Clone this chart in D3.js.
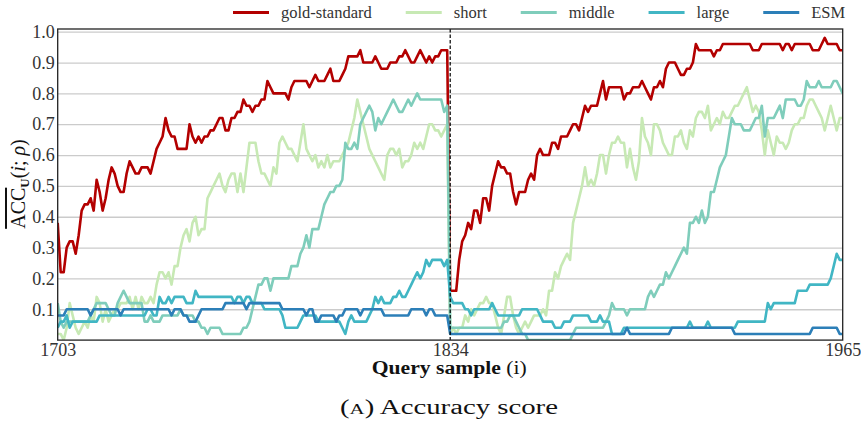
<!DOCTYPE html>
<html>
<head>
<meta charset="utf-8">
<script src="https://cdn.jsdelivr.net/npm/d3@7"></script>
<style>
  html, body { margin: 0; padding: 0; background: #fff; }
  svg { display: block; font-family: "Liberation Serif", "Times New Roman", serif; }
</style>
</head>
<body>
<div id="chart"></div>
<script>
// query samples 1703..1965, one value per sample, two runs split at 1834
const queryStart = 1703;
const querySplit = 1834;
const queryEnd = 1965;
const xTicks = [1703, 1834, 1965];
const yTicks = [0.1, 0.2, 0.3, 0.4, 0.5, 0.6, 0.7, 0.8, 0.9, 1.0];
const seriesNames = ['gold-standard', 'short', 'middle', 'large', 'ESM'];

const goldStandard = [
  0.38,0.22,0.22,0.30,0.32,0.32,0.28,0.34,0.42,0.44,
  0.44,0.46,0.42,0.52,0.48,0.42,0.46,0.52,0.56,0.54,
  0.50,0.48,0.48,0.54,0.58,0.56,0.54,0.54,0.56,0.56,
  0.56,0.54,0.58,0.62,0.64,0.66,0.72,0.68,0.66,0.66,
  0.62,0.62,0.62,0.62,0.70,0.66,0.64,0.66,0.64,0.66,
  0.66,0.68,0.68,0.70,0.72,0.72,0.68,0.68,0.72,0.72,
  0.74,0.74,0.78,0.76,0.76,0.74,0.76,0.76,0.78,0.78,
  0.84,0.82,0.80,0.80,0.80,0.80,0.80,0.78,0.82,0.84,
  0.84,0.84,0.84,0.84,0.82,0.84,0.86,0.84,0.84,0.84,
  0.86,0.88,0.84,0.84,0.84,0.86,0.88,0.92,0.92,0.92,
  0.92,0.94,0.90,0.90,0.90,0.90,0.92,0.90,0.88,0.88,
  0.88,0.90,0.90,0.90,0.92,0.92,0.94,0.92,0.90,0.90,
  0.92,0.94,0.92,0.90,0.92,0.90,0.92,0.92,0.94,0.94,
  0.94,0.16,0.16,0.16,0.26,0.32,0.34,0.38,0.36,0.42,
  0.42,0.38,0.46,0.46,0.42,0.50,0.54,0.58,0.56,0.56,
  0.54,0.54,0.48,0.44,0.48,0.48,0.48,0.52,0.54,0.52,
  0.60,0.62,0.60,0.60,0.60,0.64,0.64,0.62,0.66,0.66,
  0.66,0.68,0.70,0.70,0.68,0.72,0.76,0.74,0.76,0.76,
  0.76,0.80,0.84,0.78,0.82,0.82,0.82,0.82,0.82,0.78,
  0.80,0.80,0.82,0.82,0.82,0.84,0.82,0.80,0.78,0.82,
  0.82,0.84,0.82,0.88,0.90,0.90,0.90,0.88,0.86,0.86,
  0.88,0.88,0.90,0.96,0.94,0.94,0.94,0.94,0.94,0.92,
  0.94,0.94,0.96,0.96,0.96,0.96,0.96,0.96,0.96,0.96,
  0.96,0.96,0.94,0.94,0.94,0.96,0.96,0.96,0.96,0.96,
  0.96,0.96,0.94,0.96,0.96,0.94,0.96,0.96,0.96,0.96,
  0.96,0.96,0.94,0.94,0.94,0.96,0.98,0.96,0.96,0.96,
  0.96,0.94,0.94
];

const shortModel = [
  0.02,0.02,0.00,0.04,0.12,0.08,0.04,0.02,0.04,0.06,
  0.04,0.08,0.06,0.14,0.12,0.06,0.10,0.06,0.08,0.10,
  0.10,0.12,0.12,0.12,0.14,0.10,0.14,0.10,0.14,0.12,
  0.12,0.14,0.12,0.18,0.22,0.22,0.20,0.22,0.18,0.24,
  0.24,0.30,0.34,0.36,0.32,0.38,0.40,0.34,0.36,0.36,
  0.46,0.48,0.50,0.52,0.54,0.50,0.48,0.52,0.54,0.54,
  0.48,0.54,0.48,0.56,0.64,0.64,0.64,0.58,0.54,0.54,
  0.52,0.50,0.56,0.54,0.64,0.66,0.64,0.62,0.62,0.60,
  0.58,0.64,0.70,0.62,0.60,0.58,0.60,0.56,0.58,0.56,
  0.60,0.56,0.58,0.58,0.58,0.60,0.62,0.64,0.68,0.72,
  0.78,0.74,0.70,0.66,0.62,0.60,0.58,0.56,0.54,0.52,
  0.60,0.62,0.62,0.60,0.62,0.56,0.58,0.58,0.60,0.64,
  0.62,0.64,0.62,0.66,0.70,0.70,0.68,0.68,0.66,0.68,
  0.70,0.02,0.04,0.02,0.04,0.04,0.08,0.06,0.10,0.08,
  0.10,0.12,0.12,0.14,0.12,0.12,0.08,0.04,0.02,0.08,
  0.14,0.14,0.08,0.04,0.02,0.04,0.06,0.04,0.06,0.08,
  0.08,0.08,0.10,0.08,0.16,0.16,0.22,0.20,0.24,0.26,
  0.28,0.26,0.38,0.42,0.46,0.50,0.56,0.50,0.52,0.50,
  0.54,0.60,0.60,0.54,0.60,0.64,0.64,0.66,0.64,0.64,
  0.56,0.62,0.56,0.52,0.58,0.72,0.66,0.64,0.60,0.70,
  0.70,0.68,0.64,0.62,0.60,0.60,0.66,0.66,0.68,0.64,
  0.62,0.68,0.66,0.72,0.74,0.74,0.72,0.76,0.68,0.70,
  0.72,0.70,0.74,0.72,0.72,0.74,0.76,0.76,0.78,0.80,
  0.82,0.78,0.74,0.76,0.74,0.68,0.60,0.68,0.64,0.60,
  0.66,0.64,0.64,0.62,0.64,0.68,0.70,0.70,0.72,0.72,
  0.76,0.78,0.78,0.76,0.74,0.72,0.68,0.72,0.76,0.72,
  0.68,0.72,0.72
];

const middleModel = [
  0.12,0.06,0.04,0.06,0.06,0.06,0.06,0.06,0.06,0.06,
  0.06,0.08,0.10,0.12,0.12,0.12,0.12,0.10,0.08,0.08,
  0.12,0.14,0.16,0.14,0.12,0.12,0.12,0.12,0.12,0.06,
  0.06,0.08,0.06,0.06,0.06,0.08,0.08,0.08,0.08,0.08,
  0.08,0.10,0.08,0.08,0.08,0.08,0.06,0.06,0.04,0.04,
  0.02,0.04,0.04,0.04,0.04,0.02,0.02,0.02,0.02,0.02,
  0.02,0.02,0.04,0.04,0.06,0.10,0.14,0.18,0.18,0.20,
  0.20,0.16,0.20,0.20,0.20,0.20,0.20,0.20,0.24,0.24,
  0.24,0.28,0.30,0.34,0.30,0.36,0.36,0.36,0.40,0.44,
  0.46,0.48,0.48,0.50,0.50,0.52,0.64,0.62,0.62,0.64,
  0.62,0.70,0.72,0.74,0.76,0.74,0.68,0.72,0.70,0.72,
  0.74,0.76,0.78,0.76,0.74,0.74,0.76,0.78,0.76,0.78,
  0.80,0.78,0.78,0.78,0.78,0.78,0.78,0.78,0.78,0.74,
  0.76,0.04,0.04,0.04,0.04,0.04,0.04,0.04,0.04,0.04,
  0.04,0.04,0.04,0.04,0.04,0.04,0.04,0.04,0.04,0.06,
  0.06,0.08,0.08,0.06,0.04,0.02,0.02,0.00,0.00,0.00,
  0.00,0.00,0.00,0.00,0.00,0.00,0.00,0.00,0.00,0.00,
  0.00,0.00,0.02,0.04,0.04,0.04,0.04,0.04,0.04,0.04,
  0.04,0.04,0.04,0.06,0.08,0.12,0.10,0.10,0.10,0.10,
  0.08,0.10,0.10,0.10,0.10,0.10,0.10,0.14,0.16,0.14,
  0.16,0.18,0.18,0.22,0.20,0.22,0.24,0.26,0.28,0.30,
  0.28,0.38,0.38,0.40,0.38,0.42,0.38,0.40,0.48,0.48,
  0.52,0.56,0.58,0.60,0.66,0.72,0.70,0.70,0.70,0.68,
  0.68,0.68,0.70,0.72,0.72,0.76,0.66,0.72,0.72,0.72,
  0.74,0.76,0.72,0.78,0.78,0.78,0.78,0.76,0.76,0.78,
  0.84,0.82,0.82,0.82,0.84,0.82,0.82,0.82,0.82,0.84,
  0.84,0.82,0.80
];

const largeModel = [
  0.04,0.06,0.06,0.08,0.04,0.06,0.06,0.06,0.06,0.06,
  0.06,0.06,0.06,0.06,0.08,0.08,0.08,0.08,0.08,0.08,
  0.08,0.08,0.08,0.08,0.08,0.08,0.08,0.08,0.08,0.08,
  0.10,0.10,0.08,0.08,0.14,0.12,0.12,0.14,0.12,0.14,
  0.14,0.14,0.14,0.12,0.12,0.12,0.16,0.14,0.14,0.14,
  0.14,0.14,0.14,0.14,0.14,0.14,0.14,0.14,0.14,0.12,
  0.14,0.14,0.12,0.14,0.14,0.12,0.12,0.12,0.12,0.10,
  0.10,0.10,0.10,0.10,0.10,0.08,0.04,0.04,0.04,0.04,
  0.04,0.06,0.08,0.08,0.08,0.08,0.08,0.06,0.06,0.06,
  0.06,0.06,0.06,0.06,0.06,0.04,0.02,0.06,0.08,0.06,
  0.06,0.06,0.06,0.06,0.08,0.10,0.14,0.12,0.14,0.12,
  0.12,0.12,0.14,0.14,0.16,0.14,0.14,0.16,0.18,0.20,
  0.22,0.20,0.22,0.26,0.24,0.26,0.26,0.26,0.26,0.24,
  0.26,0.14,0.12,0.12,0.12,0.12,0.10,0.10,0.08,0.10,
  0.10,0.10,0.10,0.10,0.10,0.12,0.10,0.08,0.08,0.08,
  0.08,0.08,0.08,0.08,0.08,0.10,0.10,0.10,0.10,0.10,
  0.10,0.08,0.06,0.06,0.06,0.06,0.04,0.04,0.04,0.06,
  0.06,0.06,0.08,0.08,0.08,0.08,0.08,0.08,0.06,0.06,
  0.06,0.08,0.06,0.06,0.06,0.02,0.02,0.02,0.02,0.04,
  0.04,0.04,0.04,0.04,0.04,0.04,0.04,0.04,0.04,0.04,
  0.04,0.04,0.04,0.04,0.04,0.04,0.04,0.04,0.04,0.04,
  0.04,0.06,0.04,0.04,0.04,0.04,0.04,0.06,0.04,0.04,
  0.04,0.04,0.04,0.04,0.04,0.04,0.04,0.06,0.06,0.06,
  0.06,0.06,0.06,0.06,0.06,0.06,0.06,0.12,0.10,0.12,
  0.12,0.12,0.12,0.12,0.12,0.12,0.12,0.16,0.16,0.16,
  0.16,0.18,0.18,0.18,0.18,0.18,0.18,0.18,0.20,0.24,
  0.28,0.26,0.26
];

const esmModel = [
  0.08,0.08,0.08,0.10,0.10,0.10,0.10,0.10,0.10,0.10,
  0.10,0.08,0.10,0.10,0.10,0.10,0.10,0.10,0.10,0.10,
  0.10,0.08,0.10,0.10,0.10,0.10,0.10,0.10,0.10,0.10,
  0.10,0.10,0.10,0.10,0.10,0.10,0.10,0.10,0.08,0.10,
  0.10,0.10,0.08,0.08,0.06,0.06,0.06,0.08,0.10,0.10,
  0.10,0.10,0.10,0.10,0.10,0.10,0.12,0.12,0.12,0.12,
  0.12,0.12,0.12,0.10,0.12,0.12,0.12,0.12,0.12,0.12,
  0.12,0.12,0.12,0.12,0.12,0.10,0.10,0.10,0.10,0.10,
  0.10,0.10,0.10,0.08,0.10,0.10,0.06,0.06,0.08,0.08,
  0.08,0.08,0.08,0.06,0.08,0.08,0.10,0.10,0.10,0.10,
  0.10,0.08,0.10,0.10,0.10,0.10,0.10,0.10,0.10,0.08,
  0.08,0.08,0.08,0.08,0.08,0.08,0.08,0.08,0.10,0.10,
  0.10,0.10,0.10,0.08,0.10,0.10,0.08,0.08,0.08,0.08,
  0.08,0.02,0.02,0.02,0.02,0.02,0.02,0.02,0.02,0.02,
  0.02,0.02,0.02,0.02,0.02,0.02,0.02,0.02,0.02,0.02,
  0.02,0.02,0.02,0.02,0.02,0.02,0.02,0.02,0.02,0.02,
  0.02,0.02,0.02,0.02,0.02,0.02,0.02,0.02,0.02,0.02,
  0.02,0.02,0.02,0.02,0.02,0.02,0.02,0.02,0.02,0.02,
  0.02,0.02,0.02,0.02,0.02,0.02,0.02,0.02,0.02,0.02,
  0.04,0.02,0.02,0.02,0.02,0.02,0.02,0.02,0.02,0.02,
  0.02,0.02,0.02,0.02,0.02,0.04,0.04,0.04,0.04,0.04,
  0.04,0.04,0.04,0.04,0.04,0.04,0.04,0.04,0.04,0.04,
  0.04,0.04,0.04,0.04,0.04,0.04,0.02,0.02,0.02,0.02,
  0.02,0.02,0.02,0.02,0.02,0.02,0.02,0.02,0.02,0.02,
  0.02,0.02,0.02,0.02,0.02,0.02,0.02,0.02,0.02,0.02,
  0.02,0.02,0.04,0.04,0.04,0.04,0.04,0.04,0.04,0.04,
  0.04,0.02,0.02
];

const seriesValues = [goldStandard, shortModel, middleModel, largeModel, esmModel];

// 스타일
const seriesColors = ['#b30000', '#c7e9b4', '#7fcdbb', '#41b6c4', '#2c7fb8'];
const width = 861;
const height = 421;
const plot = { left: 57.7, right: 842.7, top: 29, bottom: 340.1 };

const svg = d3.select('#chart')
    .append('svg')
    .attr('width', width)
    .attr('height', height);

const x = d3.scaleLinear()
    .domain([queryStart, queryEnd])
    .range([plot.left, plot.right]);

const y = d3.scaleLinear()
    .domain([0, 1])
    .range([plot.bottom, 31.7]);

// 가로 그리드
svg.append('g')
    .attr('transform', `translate(${plot.left},0)`)
    .call(d3.axisLeft(y).tickValues(yTicks).tickSize(-(plot.right - plot.left)).tickFormat(''))
    .call(g => g.select('.domain').remove())
    .call(g => g.selectAll('line').attr('stroke', '#cbcbcb').attr('stroke-width', 1.3));

// 클립
svg.append('defs').append('clipPath')
    .attr('id', 'plot-clip')
    .append('rect')
    .attr('x', plot.left)
    .attr('y', plot.top)
    .attr('width', plot.right - plot.left)
    .attr('height', plot.bottom - plot.top);

const line = d3.line()
    .x((d, i) => x(queryStart + i))
    .y(d => y(d));

svg.append('g')
    .attr('clip-path', 'url(#plot-clip)')
    .selectAll('path')
    .data(seriesValues)
    .enter()
    .append('path')
    .attr('d', line)
    .attr('fill', 'none')
    .attr('stroke', (d, i) => seriesColors[i])
    .attr('stroke-width', 2.6)
    .attr('stroke-linejoin', 'round');

// 분할선
svg.append('line')
    .attr('x1', x(querySplit))
    .attr('x2', x(querySplit))
    .attr('y1', plot.top)
    .attr('y2', plot.bottom)
    .attr('stroke', '#000')
    .attr('stroke-width', 1.2)
    .attr('stroke-dasharray', '3.5,2');

// 테두리
svg.append('rect')
    .attr('x', plot.left)
    .attr('y', plot.top)
    .attr('width', plot.right - plot.left)
    .attr('height', plot.bottom - plot.top)
    .attr('fill', 'none')
    .attr('stroke', '#222')
    .attr('stroke-width', 1.3);

// 축 라벨
svg.append('g')
    .attr('transform', `translate(${plot.left},0)`)
    .call(d3.axisLeft(y).tickValues(yTicks).tickSize(0).tickPadding(3).tickFormat(d3.format('.1f')))
    .call(g => g.select('.domain').remove())
    .call(g => g.selectAll('text')
        .attr('font-family', '"Liberation Serif", serif')
        .attr('font-size', 18)
        .attr('fill', '#333'));

svg.append('g')
    .attr('transform', `translate(0,${plot.bottom})`)
    .call(d3.axisBottom(x).tickValues(xTicks).tickSize(0).tickPadding(3).tickFormat(d3.format('d')))
    .call(g => g.select('.domain').remove())
    .call(g => g.selectAll('text')
        .attr('font-family', '"Liberation Serif", serif')
        .attr('font-size', 18)
        .attr('fill', '#333'));

// x 제목
const xTitle = svg.append('text')
    .attr('x', 449.2)
    .attr('y', 374)
    .attr('text-anchor', 'middle')
    .attr('font-size', 18.5)
    .attr('fill', '#111')
    .attr('textLength', 155)
    .attr('lengthAdjust', 'spacingAndGlyphs');
xTitle.append('tspan').attr('font-weight', 'bold').text('Query sample');
xTitle.append('tspan').text(' (i)');

// y 제목
const yTitle = svg.append('text')
    .attr('transform', 'translate(25,184) rotate(-90)')
    .attr('text-anchor', 'middle')
    .attr('font-size', 20)
    .attr('fill', '#111');
yTitle.append('tspan').style('text-decoration', 'overline').text('ACC');
yTitle.append('tspan').attr('font-weight', 'bold').attr('font-size', 13).attr('dy', 4).text('U');
yTitle.append('tspan').attr('dy', -4).text('(');
yTitle.append('tspan').attr('font-style', 'italic').text('i');
yTitle.append('tspan').text('; ');
yTitle.append('tspan').attr('font-style', 'italic').text('ρ');
yTitle.append('tspan').text(')');

// 캡션
const caption = svg.append('text')
    .attr('x', 449)
    .attr('y', 414)
    .attr('text-anchor', 'middle')
    .attr('font-size', 20)
    .attr('fill', '#111')
    .attr('textLength', 218)
    .attr('lengthAdjust', 'spacingAndGlyphs');
caption.append('tspan').text('(');
caption.append('tspan').attr('font-size', 14.5).text('A');
caption.append('tspan').text(')  Accuracy score');

// 범례
const legendStart = 233;
const legend = svg.append('g').attr('transform', 'translate(0,12.5)');
let legendX = legendStart;
seriesNames.forEach((name, i) => {
    legend.append('line')
        .attr('x1', legendX)
        .attr('x2', legendX + 36)
        .attr('stroke', seriesColors[i])
        .attr('stroke-width', 2.8);
    const label = legend.append('text')
        .attr('x', legendX + 48)
        .attr('y', 5.5)
        .attr('font-size', 16.5)
        .attr('fill', '#333')
        .text(name);
    legendX += 48 + label.node().getComputedTextLength() + 34;
});
</script>
</body>
</html>
